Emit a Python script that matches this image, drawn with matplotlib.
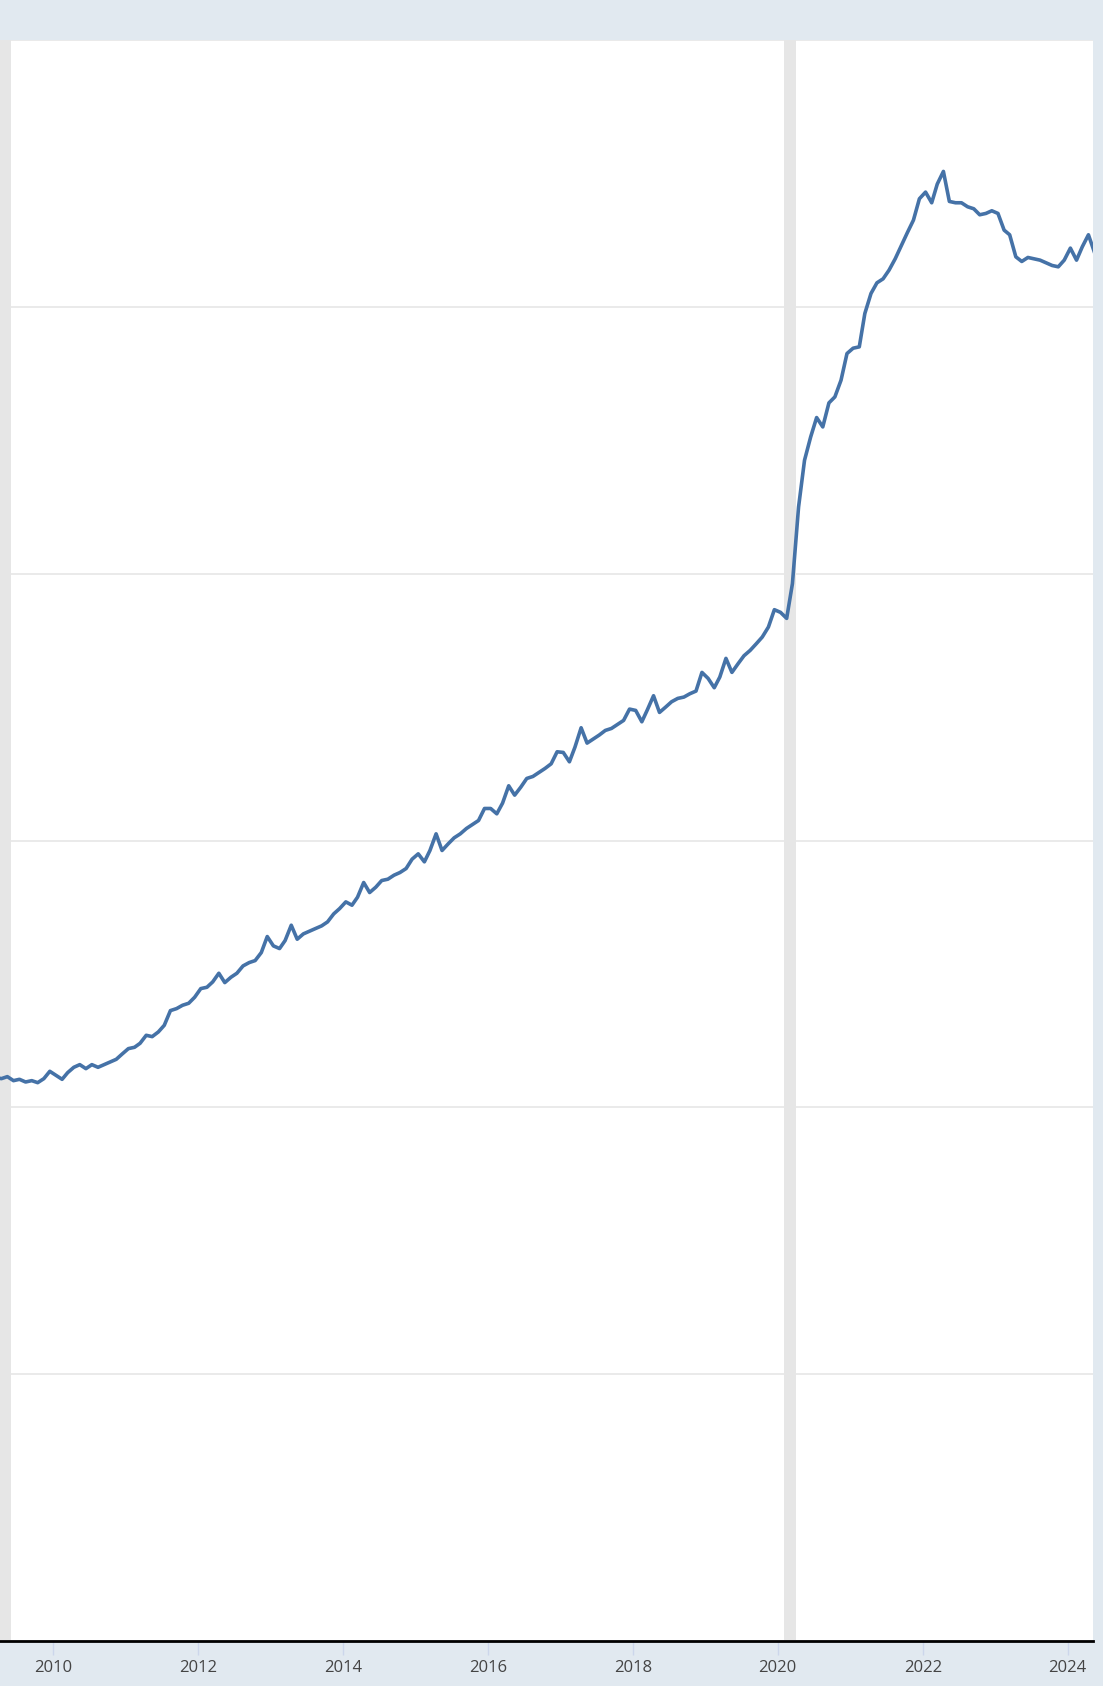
import pandas as pd
import matplotlib.pyplot as plt
import matplotlib.dates as mdates

# Monthly readings of the weekly M2 line (billions of dollars), mid-month, starting March 2009
first_month = "2009-03"
m2_values = [
    8450, 8430, 8460, 8400, 8420, 8380, 8400, 8370, 8430, 8540,  # 2009 Mar-Dec
    8480, 8420, 8520, 8600, 8640, 8580, 8640, 8600, 8640, 8680, 8720, 8800,  # 2010
    8880, 8900, 8960, 9080, 9060, 9130, 9230, 9450, 9480, 9530, 9560, 9650,  # 2011
    9780, 9800, 9880, 10010, 9870, 9950, 10010, 10120, 10170, 10200, 10320, 10560,  # 2012
    10420, 10380, 10500, 10730, 10520, 10600, 10640, 10680, 10720, 10780, 10900, 10980,  # 2013
    11080, 11030, 11150, 11370, 11220, 11300, 11400, 11420, 11480, 11520, 11580, 11720,  # 2014
    11800, 11680, 11850, 12100, 11850, 11950, 12040, 12100, 12180, 12240, 12300, 12480,  # 2015
    12480, 12400, 12560, 12820, 12680, 12800, 12930, 12960, 13020, 13080, 13150, 13330,  # 2016
    13320, 13180, 13400, 13690, 13460, 13520, 13580, 13650, 13680, 13740, 13800, 13970,  # 2017
    13950, 13780, 13960, 14170, 13920, 14000, 14080, 14130, 14150, 14200, 14240, 14520,  # 2018
    14430, 14290, 14450, 14730, 14520, 14650, 14770, 14850, 14950, 15050, 15200, 15460,  # 2019
    15420, 15330, 15850, 17000, 17700, 18050, 18340, 18200, 18560, 18650, 18900, 19300,  # 2020
    19380, 19400, 19900, 20200, 20360, 20420, 20550, 20720, 20920, 21110, 21300, 21620,  # 2021
    21720, 21560, 21840, 22030, 21580, 21560, 21560, 21500, 21470, 21380, 21400, 21440,  # 2022
    21400, 21150, 21080, 20750, 20680, 20740, 20720, 20700, 20660, 20620, 20600, 20700,  # 2023
    20880, 20700, 20900, 21080, 20820,  # 2024 Jan-May
]

# NBER recessions (peak month start, trough month start)
recession_starts = ["2007-12-01", "2020-02-01"]
recession_ends = ["2009-06-01", "2020-04-01"]

y_grid = [0, 4000, 8000, 12000, 16000, 20000, 24000]
tick_years = ["2010", "2012", "2014", "2016", "2018", "2020", "2022", "2024"]

dates = pd.date_range(first_month, periods=len(m2_values), freq="MS") + pd.Timedelta(days=14)
series = pd.Series(m2_values, index=dates)

fig = plt.figure(figsize=(11.03, 16.86), dpi=100)
fig.patch.set_facecolor("#e1e9f0")

# axes placed to match the cropped screenshot
ax = fig.add_axes([0.0, 45 / 1686, 1093 / 1103, 1601 / 1686])
ax.set_facecolor("white")

for start, end in zip(recession_starts, recession_ends):
    ax.axvspan(pd.Timestamp(start), pd.Timestamp(end), color="#e6e6e6", lw=0, zorder=1)

ax.plot(series.index, series.values, color="#4572a7", lw=2.6, zorder=3,
        solid_joinstyle="round")

ax.set_ylim(y_grid[0], y_grid[-1])
ax.set_yticks(y_grid)
ax.yaxis.grid(True, color="#e6e6e6", lw=1.2, zorder=0)
ax.set_axisbelow(True)
ax.tick_params(axis="y", left=False, labelleft=False)

ax.set_xlim(pd.Timestamp("2009-04-08"), pd.Timestamp("2024-05-08"))
ax.set_xticks([pd.Timestamp(y + "-01-01") for y in tick_years])
ax.xaxis.set_major_formatter(mdates.DateFormatter("%Y"))
ax.tick_params(axis="x", direction="out", length=10, width=1, color="#ccd6eb",
               pad=4, labelsize=12, labelcolor="#444444")
for lab in ax.get_xticklabels():
    lab.set_fontfamily(["Open Sans", "DejaVu Sans"])

for side in ["top", "left", "right"]:
    ax.spines[side].set_visible(False)
ax.spines["bottom"].set_color("black")
ax.spines["bottom"].set_linewidth(2)
ax.spines["bottom"].set_zorder(4)

fig.savefig("out.png", dpi=100, facecolor=fig.get_facecolor())
plt.close(fig)
